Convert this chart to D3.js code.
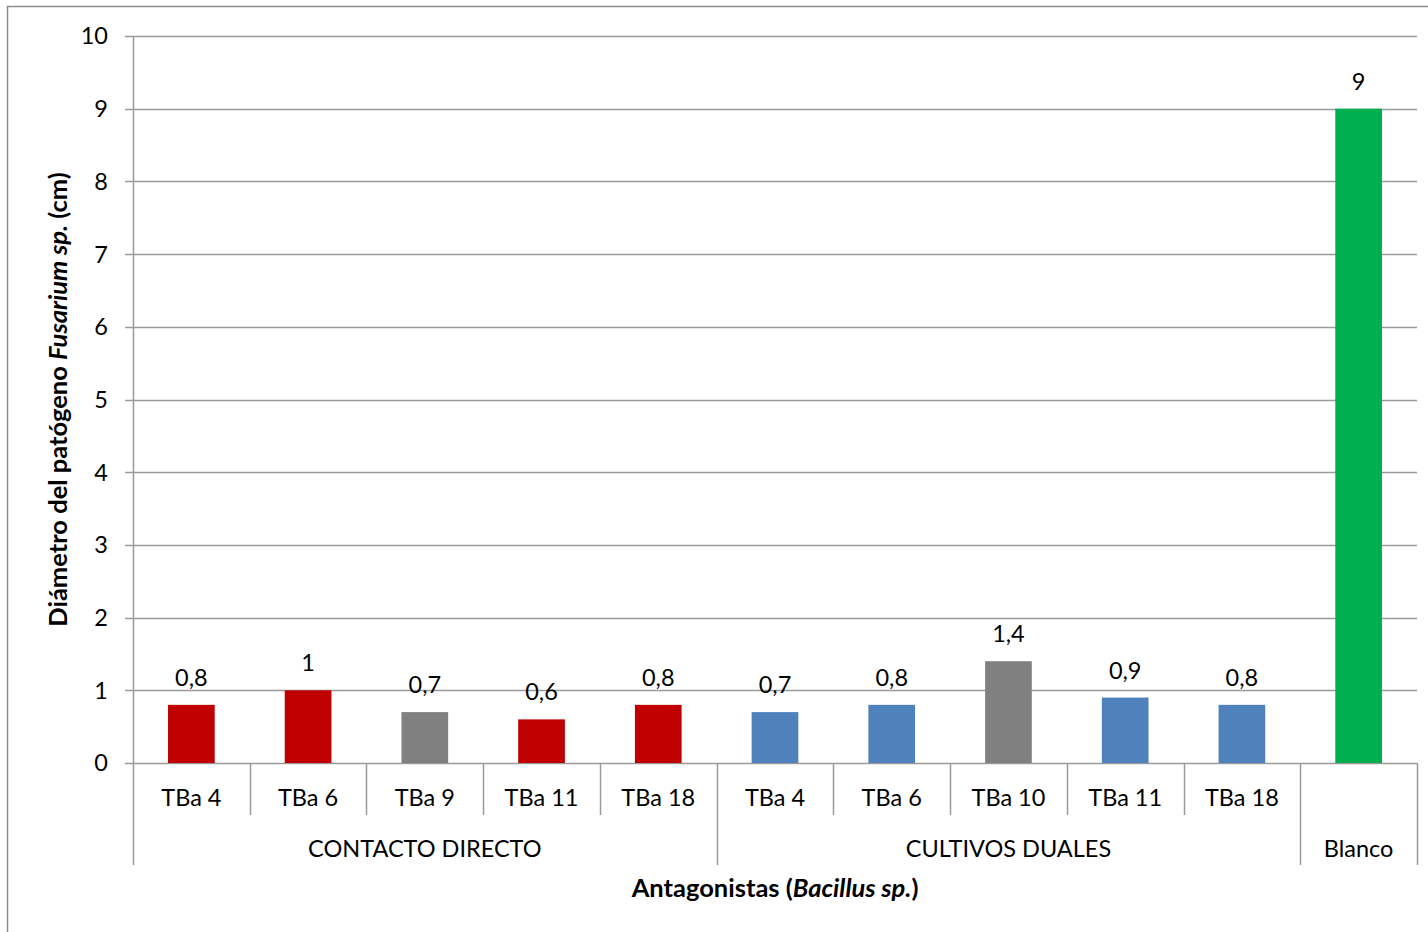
<!DOCTYPE html>
<html>
<head>
<meta charset="utf-8">
<script src="https://cdn.jsdelivr.net/npm/d3@7"></script>
<style>
  body { margin: 0; background: #fff; }
  text { font-family: Lato, "Open Sans", sans-serif; fill: #000; }
</style>
</head>
<body>
<svg></svg>
<script>
let width = 1428
let height = 932

let labels = ['TBa 4', 'TBa 6', 'TBa 9', 'TBa 11', 'TBa 18', 'TBa 4', 'TBa 6', 'TBa 10', 'TBa 11', 'TBa 18', '']
let groups = ['CONTACTO DIRECTO', 'CONTACTO DIRECTO', 'CONTACTO DIRECTO', 'CONTACTO DIRECTO', 'CONTACTO DIRECTO',
              'CULTIVOS DUALES', 'CULTIVOS DUALES', 'CULTIVOS DUALES', 'CULTIVOS DUALES', 'CULTIVOS DUALES', 'Blanco']
let values = [0.8, 1, 0.7, 0.6, 0.8, 0.7, 0.8, 1.4, 0.9, 0.8, 9]
let colors = ['#C00000', '#C00000', '#808080', '#C00000', '#C00000',
              '#4F81BD', '#4F81BD', '#808080', '#4F81BD', '#4F81BD', '#00B050']
let yTicks = [0, 1, 2, 3, 4, 5, 6, 7, 8, 9, 10]

let margin = {left: 133, right: 11, top: 36, bottom: 169}
let grid = '#9a9a9a'
let fs = '23.5px'

let svg = d3.select('svg')
    .attr('width', width)
    .attr('height', height)

// chart area border
svg.append('path')
    .attr('d', `M7.5,${height} V6.5 H${width}`)
    .attr('fill', 'none')
    .attr('stroke', '#8c8c8c')
    .attr('stroke-width', 1.5)

let idx = d3.range(values.length)

let x = d3.scaleBand()
    .domain(idx)
    .range([margin.left, width - margin.right])
    .paddingInner(0.6)
    .paddingOuter(0.3)

let step = x.step()
let x0 = margin.left

let y = d3.scaleLinear()
    .domain([0, 10])
    .range([height - margin.bottom, margin.top])

// gridlines
svg.append('g')
  .selectAll('line')
  .data(yTicks)
  .enter()
  .append('line')
    .attr('x1', margin.left - 8)
    .attr('x2', width - margin.right)
    .attr('y1', d => Math.round(y(d)) + 0.5)
    .attr('y2', d => Math.round(y(d)) + 0.5)
    .attr('stroke', grid)
    .attr('stroke-width', 1.5)

// y axis line
svg.append('line')
    .attr('x1', margin.left + 0.5)
    .attr('x2', margin.left + 0.5)
    .attr('y1', y(10))
    .attr('y2', y(0))
    .attr('stroke', grid)
    .attr('stroke-width', 1.5)

// y tick labels
svg.append('g')
  .selectAll('text')
  .data(yTicks)
  .enter()
  .append('text')
    .attr('x', 108)
    .attr('y', d => y(d))
    .attr('dy', '0.36em')
    .attr('text-anchor', 'end')
    .style('font-size', fs)
    .text(d => d)

// bars
svg.append('g')
  .selectAll('rect')
  .data(idx)
  .enter()
  .append('rect')
    .attr('x', i => x(i))
    .attr('width', x.bandwidth())
    .attr('y', i => y(values[i]))
    .attr('height', i => y(0) - y(values[i]))
    .attr('fill', i => colors[i])

// data labels
svg.append('g')
  .selectAll('text')
  .data(idx)
  .enter()
  .append('text')
    .attr('x', i => x(i) + x.bandwidth() / 2)
    .attr('y', i => y(values[i]) - 19)
    .attr('text-anchor', 'middle')
    .style('font-size', fs)
    .text(i => String(values[i]).replace('.', ','))

// category axis separators
let base = y(0)
svg.append('g')
  .selectAll('line')
  .data(d3.range(values.length + 1))
  .enter()
  .append('line')
    .attr('x1', i => Math.round(x0 + i * step) + 0.5)
    .attr('x2', i => Math.round(x0 + i * step) + 0.5)
    .attr('y1', base)
    .attr('y2', i => (i === 0 || i === values.length || groups[i] !== groups[i - 1]) ? base + 102 : base + 52)
    .attr('stroke', grid)
    .attr('stroke-width', 1.5)

// category labels
svg.append('g')
  .selectAll('text')
  .data(idx)
  .enter()
  .append('text')
    .attr('x', i => x0 + (i + 0.5) * step)
    .attr('y', base + 35)
    .attr('dy', '0.36em')
    .attr('text-anchor', 'middle')
    .style('font-size', fs)
    .text(i => labels[i])

// group labels
let groupNames = Array.from(new Set(groups))
svg.append('g')
  .selectAll('text')
  .data(groupNames)
  .enter()
  .append('text')
    .attr('x', g => {
      let first = groups.indexOf(g)
      let last = groups.lastIndexOf(g)
      return x0 + (first + last + 1) / 2 * step
    })
    .attr('y', base + 86)
    .attr('dy', '0.36em')
    .attr('text-anchor', 'middle')
    .style('font-size', fs)
    .text(g => g)

// x axis title
let xt = svg.append('text')
    .attr('x', (margin.left + width - margin.right) / 2)
    .attr('y', 888)
    .attr('dy', '0.36em')
    .attr('text-anchor', 'middle')
    .style('font-size', '25.5px')
    .style('font-weight', 'bold')
xt.append('tspan').text('Antagonistas (')
xt.append('tspan').style('font-style', 'italic').text('Bacillus sp.')
xt.append('tspan').text(')')

// y axis title
let yt = svg.append('text')
    .attr('transform', `translate(58, ${(y(0) + y(10)) / 2}) rotate(-90)`)
    .attr('dy', '0.36em')
    .attr('text-anchor', 'middle')
    .style('font-size', '25.5px')
    .style('font-weight', 'bold')
yt.append('tspan').text('Diámetro del patógeno ')
yt.append('tspan').style('font-style', 'italic').text('Fusarium sp.')
yt.append('tspan').text(' (cm)')
</script>
</body>
</html>
